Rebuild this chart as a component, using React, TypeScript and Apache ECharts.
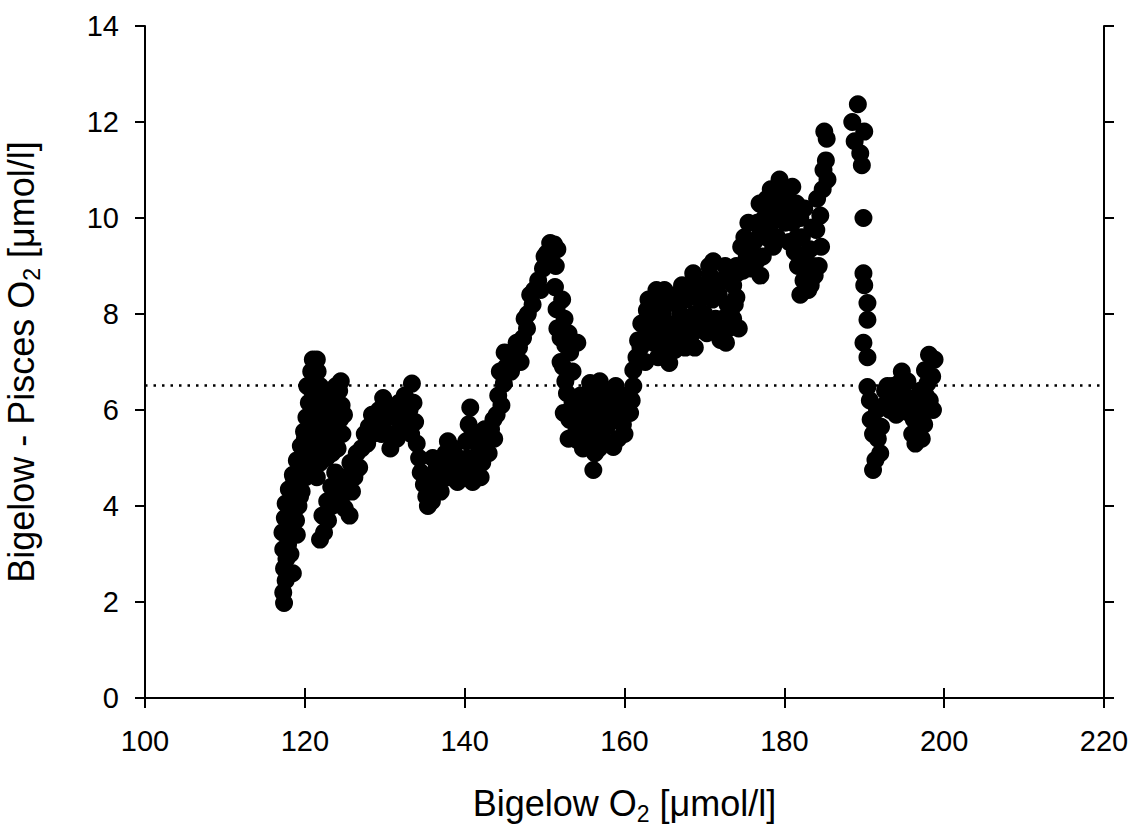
import React, { useEffect, useRef } from "react";
import * as echarts from "echarts";

// Bigelow O2 (x) vs Bigelow - Pisces O2 difference (y)
const clusterA: number[][] = [
  [117.4, 1.98], [117.3, 2.2], [117.6, 2.45], [117.4, 2.7], [117.7, 2.9], [117.3, 3.1], [117.9, 3.2],
  [117.2, 3.45], [117.8, 3.5], [118.4, 3.45], [117.5, 3.75], [118.2, 3.8], [118.9, 3.7], [117.6, 4.05],
  [118.4, 4.1], [119.2, 4.0], [118.0, 4.35], [118.8, 4.4], [119.6, 4.3], [118.5, 4.65], [119.3, 4.7],
  [120.1, 4.6], [119.0, 4.95], [119.8, 5.0], [120.6, 4.9], [119.5, 5.25], [120.3, 5.3], [121.1, 5.2],
  [119.9, 5.55], [120.7, 5.6], [121.4, 5.5], [120.2, 5.85], [121.0, 5.9], [120.5, 6.15], [121.2, 6.2],
  [120.7, 6.45], [121.1, 6.6], [120.8, 6.8], [121.0, 7.05], [121.5, 7.05],
  [118.2, 3.0], [118.6, 4.6], [119.6, 4.8], [120.0, 5.4], [120.9, 5.4], [121.6, 5.2], [119.4, 4.2],
  [119.0, 3.4], [118.5, 2.6], [121.5, 6.0], [121.6, 6.8], [120.3, 6.5],
];
const clusterB: number[][] = [
  [121.8, 5.9], [122.3, 6.2], [122.5, 5.7], [122.0, 5.3], [122.9, 5.4], [123.1, 6.0], [123.5, 6.3],
  [123.9, 6.5], [124.3, 6.4], [124.6, 6.1], [124.4, 5.8], [123.8, 5.7], [124.7, 5.5], [124.1, 5.2],
  [123.4, 5.1], [122.7, 5.0], [121.9, 4.9], [121.5, 4.6], [124.5, 6.6], [124.9, 5.9],
  [122.2, 5.5], [122.8, 5.8], [123.3, 5.5], [123.8, 6.0], [122.6, 6.3], [121.9, 6.5], [123.0, 6.4],
  [124.0, 5.45],
];
const clusterC: number[][] = [
  [121.9, 3.3], [122.4, 3.45], [122.2, 3.8], [122.9, 3.7], [122.8, 4.1], [123.4, 4.0], [123.3, 4.4],
  [123.9, 4.3], [123.8, 4.7], [124.4, 4.6], [124.5, 4.1], [125.0, 3.95], [125.6, 3.8], [125.3, 4.4],
  [125.9, 4.3], [126.2, 4.6], [126.8, 4.8], [126.5, 5.1], [127.1, 5.2], [127.5, 5.5], [128.0, 5.65],
  [128.4, 5.9], [128.9, 5.75], [129.3, 6.0], [129.8, 6.25], [130.0, 5.8], [130.4, 5.5], [130.7, 5.2],
  [131.0, 5.5], [131.4, 5.85], [131.8, 6.15], [132.3, 5.95], [132.7, 5.65], [133.1, 6.0], [133.4, 6.55],
  [133.6, 6.15], [133.8, 5.75], [134.0, 5.3], [134.3, 5.0], [134.5, 4.7], [134.9, 4.45], [135.2, 4.2],
  [135.4, 4.0], [135.9, 4.1], [136.3, 4.4], [136.8, 4.55], [137.2, 4.9], [137.6, 5.1], [137.9, 5.35],
  [138.3, 5.0], [138.7, 4.7], [139.1, 4.5], [139.5, 4.6], [139.9, 4.95], [140.2, 5.35], [140.5, 5.7],
  [140.7, 6.05], [141.0, 5.55], [141.0, 4.5], [141.4, 4.8], [141.8, 5.15], [142.2, 4.9], [142.6, 5.25],
  [142.8, 5.45], [143.3, 5.6], [143.7, 5.4], [144.0, 5.9],
  [124.9, 4.6], [125.7, 4.9], [127.8, 5.3], [128.5, 5.5], [129.2, 5.6], [129.6, 5.5], [130.2, 6.1],
  [131.0, 6.0], [131.5, 5.4], [132.0, 5.6], [132.8, 6.2], [133.3, 5.5], [132.5, 6.3],
  [135.6, 4.6], [136.5, 4.8], [137.0, 4.3], [138.0, 4.6], [138.6, 5.2], [139.2, 5.0], [140.0, 4.6],
  [140.4, 5.0], [141.5, 5.4], [142.0, 4.6], [142.5, 5.6], [143.0, 5.1], [143.6, 5.8], [136.0, 5.0],
];
const clusterD: number[][] = [
  [144.2, 6.3], [144.4, 6.8], [144.9, 6.55], [145.2, 6.9], [145.6, 7.1], [146.0, 7.2], [146.4, 7.0],
  [146.8, 7.3], [147.3, 7.5], [147.8, 7.7], [147.9, 8.0], [148.2, 8.4], [148.7, 8.5], [149.2, 8.7],
  [149.8, 8.95], [150.3, 9.27], [150.7, 9.48], [151.2, 9.45], [151.6, 9.35], [151.4, 9.0], [151.3, 8.56],
  [151.5, 8.1], [151.6, 7.7], [152.0, 7.5], [152.6, 7.35], [153.2, 7.2], [154.1, 7.4], [152.3, 6.9],
  [152.6, 6.6], [152.8, 6.35], [152.4, 5.94], [153.1, 5.8], [153.5, 6.15], [154.0, 5.6], [154.1, 5.37],
  [154.6, 5.7], [155.0, 6.05], [155.4, 6.35], [155.7, 6.56], [155.5, 5.85], [155.8, 5.3], [156.1, 4.75],
  [156.3, 5.1], [156.1, 5.75], [156.6, 5.45], [157.0, 5.9], [157.4, 6.2], [157.8, 5.65], [158.2, 5.3],
  [158.6, 5.23], [158.6, 6.2], [159.0, 5.8], [159.4, 6.1], [159.8, 5.7], [160.2, 6.0], [160.7, 5.94],
  [144.6, 6.1], [145.0, 7.2], [145.8, 6.8], [146.5, 7.4], [147.0, 7.0], [147.5, 7.9], [148.5, 8.2],
  [149.5, 8.5], [150.0, 9.2], [150.8, 9.1], [152.2, 8.3], [152.5, 7.9], [153.0, 7.6], [152.0, 7.0],
  [153.5, 6.8], [153.0, 5.4], [153.8, 5.9], [154.5, 6.3], [154.8, 5.2], [155.2, 5.6], [155.9, 6.1],
  [156.5, 6.4], [156.8, 5.2], [157.2, 5.4], [157.6, 5.9], [158.0, 6.4], [158.4, 5.8], [158.9, 6.5],
  [159.2, 5.4], [159.6, 6.3], [160.0, 5.5], [160.4, 6.3], [160.9, 6.2], [156.9, 6.6],
];
const clusterE: number[][] = [
  [161.1, 6.5], [161.1, 6.83], [161.5, 7.1], [161.7, 7.45], [162.1, 7.8], [162.5, 7.5], [162.8, 8.08],
  [163.2, 7.7], [163.5, 8.2], [163.9, 7.9], [164.3, 8.3], [164.5, 7.6], [164.8, 8.0], [165.2, 7.3],
  [165.6, 6.98], [165.8, 7.6], [166.1, 8.23], [166.3, 7.25], [166.7, 7.7], [167.0, 8.0], [167.3, 7.5],
  [167.7, 8.3], [168.0, 7.8], [168.3, 8.4], [168.6, 8.85], [168.8, 8.0], [169.1, 7.67], [169.4, 8.3],
  [169.6, 8.6], [170.0, 8.0], [170.3, 8.5], [170.7, 8.8], [171.1, 9.1], [171.0, 8.3], [171.4, 7.9],
  [171.8, 8.4], [172.0, 7.46], [172.3, 7.9], [172.7, 7.4], [172.9, 8.2], [173.3, 8.0], [173.6, 8.6],
  [174.1, 8.85], [174.0, 8.35], [173.2, 8.8],
  [162.0, 7.3], [162.6, 7.0], [163.0, 8.3], [163.6, 7.4], [164.0, 8.5], [164.2, 7.1], [165.0, 8.5],
  [165.4, 7.8], [166.0, 7.6], [166.5, 8.4], [167.2, 8.6], [167.6, 7.3], [168.2, 7.5], [168.8, 7.3],
  [169.0, 8.6], [169.8, 7.7], [170.3, 7.6], [170.6, 9.0], [171.2, 8.7], [171.6, 7.6], [172.2, 8.7],
  [172.6, 9.0], [173.0, 7.7], [173.6, 7.9], [174.3, 7.7], [174.0, 9.0], [173.8, 8.2],
];
const clusterF: number[][] = [
  [174.6, 9.4], [175.0, 9.6], [175.3, 9.2], [175.8, 8.95], [176.2, 9.5], [176.6, 9.9], [176.9, 10.3],
  [177.0, 8.8], [177.3, 9.2], [177.7, 9.6], [178.1, 9.8], [178.5, 10.2], [178.9, 10.5], [179.4, 10.8],
  [179.1, 9.6], [179.7, 10.2], [180.1, 9.9], [180.5, 10.4], [181.0, 10.65], [180.6, 9.5], [181.3, 9.3],
  [181.7, 9.0], [182.0, 8.4], [182.4, 8.7], [182.0, 10.0], [182.8, 9.0], [183.2, 9.35], [183.6, 9.0],
  [183.3, 8.6], [184.0, 9.75], [184.1, 10.4], [184.5, 10.05], [184.9, 11.0], [185.0, 11.8], [185.3, 11.65],
  [185.4, 10.8], [184.6, 9.4],
  [174.8, 8.9], [175.5, 9.9], [176.0, 9.2], [176.5, 9.1], [177.0, 9.7], [177.5, 10.0], [177.8, 10.4],
  [178.3, 10.6], [178.6, 9.4], [179.0, 10.0], [180.0, 10.6], [180.4, 10.0], [181.0, 9.9], [181.5, 10.3],
  [181.6, 9.6], [182.2, 9.6], [182.5, 9.2], [183.0, 8.5], [183.5, 9.8], [183.8, 8.8], [184.3, 9.0],
  [182.5, 10.2], [184.8, 10.6], [185.2, 11.2],
];
const clusterG: number[][] = [
  [188.5, 12.0], [188.8, 11.6], [189.2, 12.37], [189.5, 11.35], [190.0, 11.8], [189.7, 11.1], [189.9, 10.0],
  [189.9, 8.85], [190.0, 8.6], [190.4, 8.23], [190.4, 7.88], [189.9, 7.4], [190.4, 7.1], [190.4, 6.48],
];
const clusterH: number[][] = [
  [190.7, 6.2], [190.8, 5.8], [191.1, 5.5], [191.1, 4.75], [191.4, 4.96], [191.7, 5.4], [192.1, 5.65],
  [192.5, 6.1], [192.6, 6.4], [193.2, 6.0], [193.8, 6.3], [194.3, 6.55], [194.7, 6.8], [195.1, 6.3],
  [195.5, 5.95], [196.0, 5.5], [196.4, 5.3], [196.8, 5.75], [197.0, 6.4], [197.4, 6.0], [197.6, 6.83],
  [198.1, 7.15], [198.8, 7.05], [197.9, 6.55], [198.2, 6.2], [197.5, 5.7], [195.8, 6.1], [194.0, 5.9],
  [192.9, 6.5], [193.5, 6.5], [194.4, 6.2], [195.4, 6.6], [196.2, 5.8], [196.6, 6.2], [197.2, 5.4],
  [198.5, 6.7], [198.6, 6.0], [197.7, 6.3], [191.6, 6.0], [192.0, 5.1],
];

const meanDifference = 6.52;
const xTicks = [100, 120, 140, 160, 180, 200, 220];
const yTicks = [0, 2, 4, 6, 8, 10, 12, 14];

const FONT = "'Liberation Sans', Arial, Helvetica, sans-serif";

export default function App() {
  const ref = useRef<HTMLDivElement>(null);
  useEffect(() => {
    if (!ref.current) return;
    const chart = echarts.init(ref.current, undefined, { renderer: "svg" });
    const allPoints = [
      ...clusterA, ...clusterB, ...clusterC, ...clusterD,
      ...clusterE, ...clusterF, ...clusterG, ...clusterH,
    ];
    const axisLine = { show: true, lineStyle: { color: "#000", width: 2 } };
    const axisTick = { show: true, inside: false, length: 10, lineStyle: { color: "#000", width: 2 } };
    const rich = {
      a: { fontSize: 36, fontFamily: FONT, color: "#000", verticalAlign: "top" as const, lineHeight: 40, padding: [0, 0, 10, 0] },
      s: { fontSize: 23, fontFamily: FONT, color: "#000", verticalAlign: "bottom" as const, lineHeight: 23 },
    };
    chart.setOption({
      animation: false,
      backgroundColor: "#fff",
      grid: { left: 145, right: 29, top: 26, bottom: 130, containLabel: false, outerBoundsMode: "none" },
      xAxis: [
        {
          type: "value",
          min: xTicks[0],
          max: xTicks[xTicks.length - 1],
          interval: 20,
          position: "bottom",
          axisLine,
          axisTick,
          splitLine: { show: false },
          axisLabel: { fontSize: 29, fontFamily: FONT, color: "#000", margin: 28 },
          name: "{a|Bigelow O}{s|2}{a| [μmol/l]}",
          nameLocation: "middle",
          nameGap: 87,
          nameTextStyle: { rich },
        },
        {
          type: "value",
          min: xTicks[0],
          max: xTicks[xTicks.length - 1],
          interval: 20,
          position: "top",
          axisLine,
          axisTick,
          splitLine: { show: false },
          axisLabel: { show: false },
        },
      ],
      yAxis: [
        {
          type: "value",
          min: yTicks[0],
          max: yTicks[yTicks.length - 1],
          interval: 2,
          position: "left",
          axisLine,
          axisTick,
          splitLine: { show: false },
          axisLabel: { fontSize: 29, fontFamily: FONT, color: "#000", margin: 26 },
          name: "{a|Bigelow - Pisces O}{s|2}{a| [μmol/l]}",
          nameLocation: "middle",
          nameGap: 102,
          nameTextStyle: { rich },
        },
        {
          type: "value",
          min: yTicks[0],
          max: yTicks[yTicks.length - 1],
          interval: 2,
          position: "right",
          axisLine,
          axisTick,
          splitLine: { show: false },
          axisLabel: { show: false },
        },
      ],
      series: [
        {
          type: "scatter",
          xAxisIndex: 0,
          yAxisIndex: 0,
          data: allPoints,
          symbol: "circle",
          symbolSize: 18,
          itemStyle: { color: "#000", opacity: 1 },
          silent: true,
          markLine: {
            silent: true,
            symbol: "none",
            label: { show: false },
            lineStyle: { color: "#000", type: [2.5, 6], width: 2.5 },
            data: [{ yAxis: meanDifference }],
          },
        },
      ],
    });
    return () => chart.dispose();
  }, []);
  return (
    <div
      ref={ref}
      style={{ position: "fixed", left: 0, top: 0, width: 1133, height: 828, background: "#fff" }}
    />
  );
}
